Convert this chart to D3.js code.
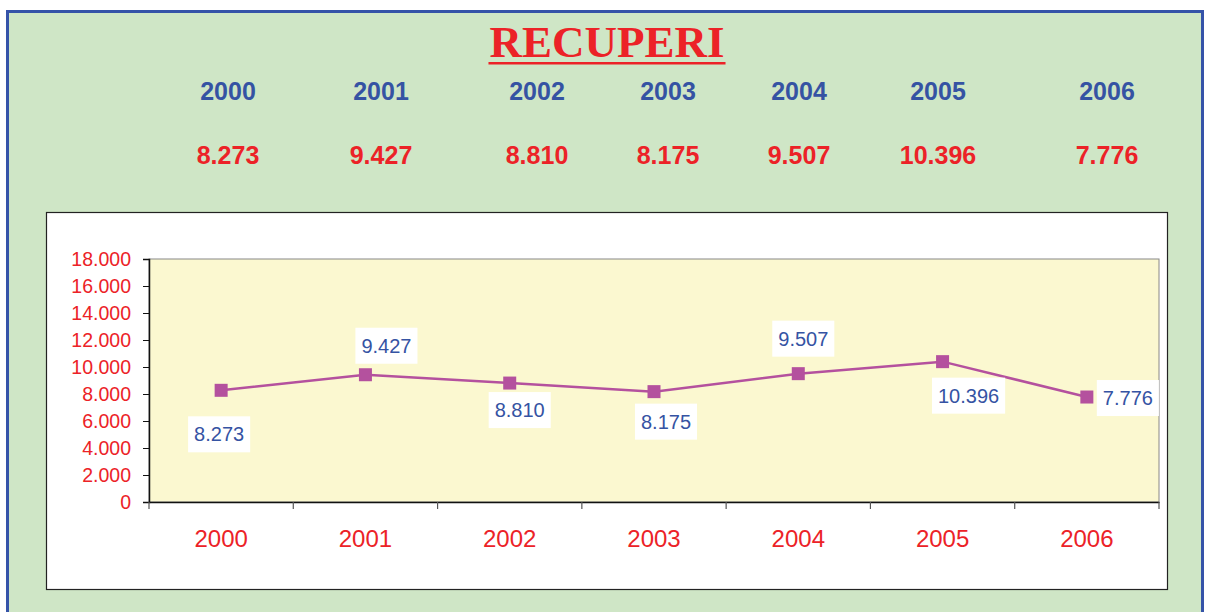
<!DOCTYPE html>
<html><head><meta charset="utf-8">
<script src="https://cdn.jsdelivr.net/npm/d3@7/dist/d3.min.js"></script>
<style>html,body{margin:0;padding:0;background:#fff;}svg{display:block;}</style>
</head><body>
<script>
const years = ["2000","2001","2002","2003","2004","2005","2006"];
const values = [8273, 9427, 8810, 8175, 9507, 10396, 7776];
const valueLabels = ["8.273","9.427","8.810","8.175","9.507","10.396","7.776"];
const yTicks = [0,2000,4000,6000,8000,10000,12000,14000,16000,18000];
const headerX = [228, 381, 537, 668, 799, 938, 1107];
// label offsets relative to each point (style)
const labelDx = [-2, 21, 10, 12, 5, 26, 41];
const labelDy = [44, -29, 27, 30, -35, 34, 1];

const W = 1205, H = 612;
const svg = d3.select("body").append("svg").attr("width", W).attr("height", H);

// outer panel
svg.append("rect").attr("x", 7.5).attr("y", 11.5).attr("width", 1195).attr("height", 612)
  .attr("fill", "#cfe6c6").attr("stroke", "#3553a8").attr("stroke-width", 3);

// title
const title = svg.append("text").attr("x", 607).attr("y", 57).attr("text-anchor", "middle")
  .attr("font-family", "Liberation Serif, Times New Roman, serif").attr("font-weight", "bold")
  .attr("font-size", 45).attr("fill", "#ec2227").text("RECUPERI");
const tb = title.node().getBBox();
svg.append("rect").attr("x", tb.x - 1).attr("y", 62).attr("width", tb.width + 2).attr("height", 2.5).attr("fill", "#ec2227");

// header rows
svg.append("g").selectAll("text").data(years).join("text")
  .attr("x", (d, i) => headerX[i]).attr("y", 100).attr("text-anchor", "middle")
  .attr("font-family", "Liberation Sans, Arial, sans-serif").attr("font-weight", "bold")
  .attr("font-size", 25).attr("fill", "#3553a3").text(d => d);
svg.append("g").selectAll("text").data(valueLabels).join("text")
  .attr("x", (d, i) => headerX[i]).attr("y", 164).attr("text-anchor", "middle")
  .attr("font-family", "Liberation Sans, Arial, sans-serif").attr("font-weight", "bold")
  .attr("font-size", 25).attr("fill", "#ec2227").text(d => d);

// chart box
svg.append("rect").attr("x", 46.5).attr("y", 212.5).attr("width", 1121).attr("height", 377)
  .attr("fill", "#fff").attr("stroke", "#222").attr("stroke-width", 1.2);

const plot = {l: 149, r: 1159, t: 259, b: 502};
svg.append("rect").attr("x", plot.l).attr("y", plot.t).attr("width", plot.r - plot.l).attr("height", plot.b - plot.t)
  .attr("fill", "#fbf8d0").attr("stroke", "#888").attr("stroke-width", 1);

const x = d3.scaleBand().domain(years).range([plot.l, plot.r]).padding(0);
const y = d3.scaleLinear().domain([0, 18000]).range([plot.b, plot.t]);

// y axis
const yAxis = svg.append("g").attr("transform", `translate(${plot.l},0)`)
  .call(d3.axisLeft(y).tickValues(yTicks).tickSize(6).tickPadding(12)
    .tickFormat(d => d === 0 ? "0" : d3.format(",")(d).replace(/,/g, ".")));
yAxis.select(".domain").attr("stroke", "#111").attr("stroke-width", 1.5);
yAxis.selectAll(".tick line").attr("stroke", "#111");
yAxis.selectAll("text").attr("fill", "#ec2227").attr("font-size", 19.5)
  .attr("font-family", "Liberation Sans, Arial, sans-serif");

// x axis
const xAxis = svg.append("g").attr("transform", `translate(0,${plot.b})`)
  .call(d3.axisBottom(x).tickSize(0).tickPadding(28));
xAxis.select(".domain").attr("stroke", "#111").attr("stroke-width", 1.5);
xAxis.selectAll("text").attr("fill", "#ec2227").attr("font-size", 24)
  .attr("font-family", "Liberation Sans, Arial, sans-serif");
// category boundary ticks
const bounds = years.map(d => x(d)).concat([x(years[years.length - 1]) + x.bandwidth()]);
svg.append("g").selectAll("line").data(bounds).join("line")
  .attr("x1", d => d).attr("x2", d => d).attr("y1", plot.b).attr("y2", plot.b + 7)
  .attr("stroke", "#555").attr("stroke-width", 1.2);

const cx = (d, i) => x(years[i]) + x.bandwidth() / 2;

// line
svg.append("path").datum(values)
  .attr("d", d3.line().x((d, i) => cx(d, i)).y(d => y(d)))
  .attr("fill", "none").attr("stroke", "#b4519e").attr("stroke-width", 2.5);

// markers
svg.append("g").selectAll("rect").data(values).join("rect")
  .attr("x", (d, i) => cx(d, i) - 6.5).attr("y", d => y(d) - 6.5)
  .attr("width", 13).attr("height", 13).attr("fill", "#b4519e");

// data labels
const lg = svg.append("g").selectAll("g").data(values).join("g")
  .attr("transform", (d, i) => `translate(${cx(d, i) + labelDx[i]},${y(d) + labelDy[i]})`);
lg.append("text").attr("text-anchor", "middle").attr("dy", "0.35em")
  .attr("font-family", "Liberation Sans, Arial, sans-serif").attr("font-size", 20)
  .attr("fill", "#3553a3").text((d, i) => valueLabels[i]);
lg.each(function () {
  const g = d3.select(this);
  const b = g.select("text").node().getBBox();
  g.insert("rect", "text").attr("x", b.x - 6).attr("y", -18).attr("width", b.width + 12).attr("height", 36)
    .attr("fill", "#fff");
});
</script>
</body></html>
